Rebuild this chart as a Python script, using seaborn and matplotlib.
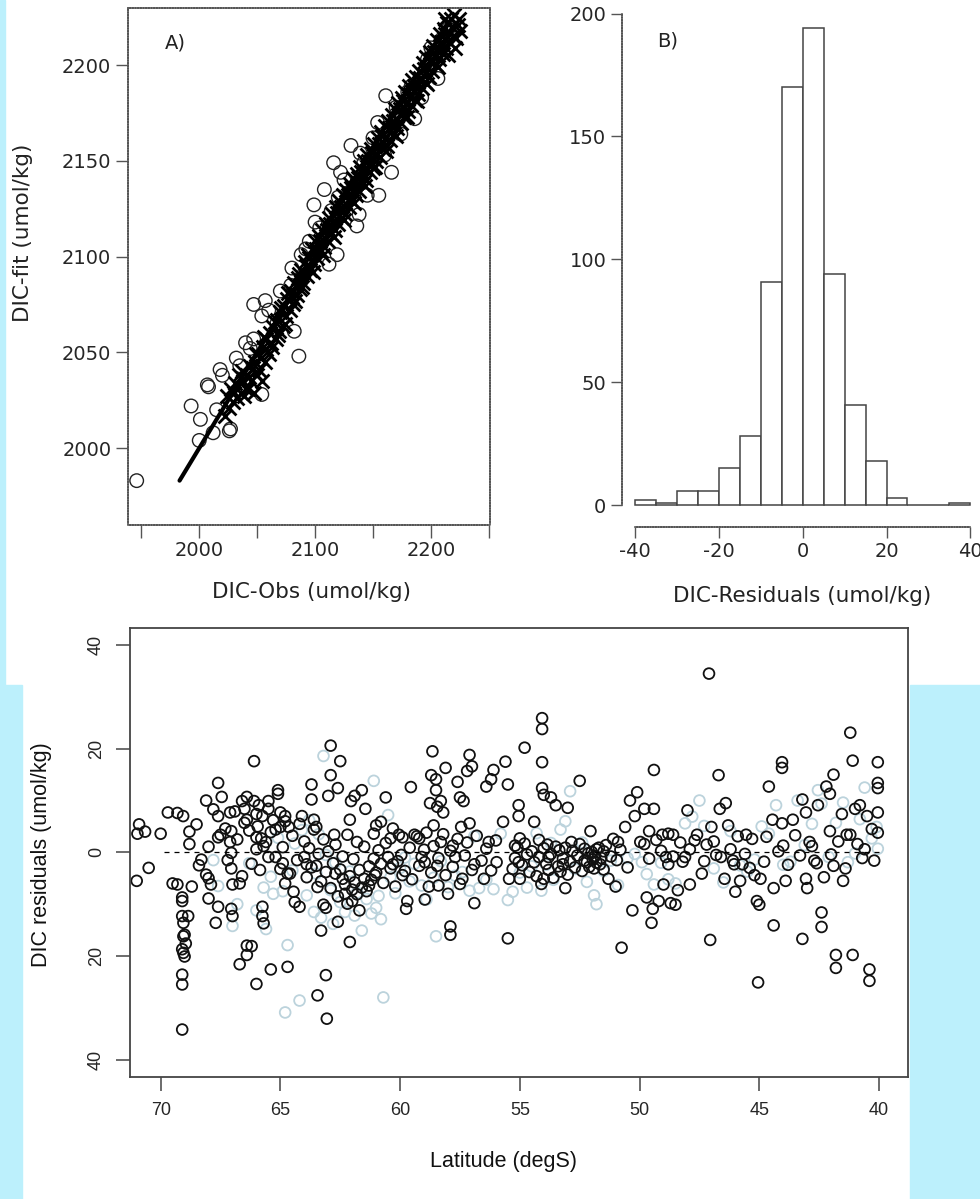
import matplotlib
matplotlib.use("Agg")
import matplotlib.pyplot as plt
import matplotlib.patches as mpatches
import numpy as np
import pandas as pd
import seaborn as sns

# ---- panel A: observed vs fitted DIC (umol/kg) ----
cross_pts = [
    (2022, 2017), (2024, 2027), (2026, 2021), (2027, 2031), (2029, 2024), (2031, 2034),
    (2033, 2026), (2034, 2038), (2036, 2029), (2038, 2035), (2039, 2027), (2041, 2038),
    (2042, 2031), (2044, 2043), (2045, 2035), (2047, 2029), (2048, 2045), (2050, 2038),
    (2051, 2049), (2052, 2041), (2054, 2035), (2055, 2053), (2057, 2045), (2058, 2057),
    (2060, 2049), (2061, 2060), (2063, 2053), (2064, 2063), (2066, 2057), (2067, 2067),
    (2069, 2061), (2070, 2071), (2072, 2064), (2073, 2074), (2075, 2069), (2076, 2078),
    (2078, 2072), (2079, 2082), (2081, 2075), (2082, 2086), (2084, 2080), (2085, 2089),
    (2087, 2083), (2088, 2093), (2090, 2086), (2091, 2097), (2093, 2090), (2094, 2101),
    (2096, 2093), (2097, 2104), (2099, 2096), (2100, 2108), (2102, 2099), (2103, 2111),
    (2105, 2103), (2106, 2114), (2108, 2105), (2109, 2117), (2111, 2108), (2112, 2120),
    (2114, 2112), (2115, 2122), (2117, 2114), (2118, 2126), (2120, 2117), (2121, 2129),
    (2123, 2120), (2124, 2132), (2126, 2122), (2127, 2135), (2129, 2126), (2130, 2138),
    (2132, 2129), (2133, 2141), (2135, 2132), (2136, 2143), (2138, 2134), (2139, 2147),
    (2141, 2138), (2142, 2150), (2144, 2140), (2145, 2153), (2147, 2144), (2148, 2156),
    (2150, 2146), (2151, 2159), (2153, 2150), (2154, 2162), (2156, 2152), (2157, 2165),
    (2159, 2156), (2160, 2168), (2162, 2158), (2163, 2171), (2165, 2161), (2166, 2174),
    (2168, 2164), (2169, 2177), (2171, 2167), (2172, 2180), (2174, 2170), (2175, 2183),
    (2177, 2173), (2178, 2186), (2180, 2176), (2181, 2189), (2183, 2179), (2184, 2192),
    (2186, 2182), (2187, 2194), (2189, 2185), (2190, 2197), (2192, 2188), (2193, 2201),
    (2195, 2191), (2196, 2204), (2198, 2194), (2199, 2207), (2201, 2197), (2202, 2210),
    (2204, 2200), (2205, 2213), (2207, 2203), (2208, 2216), (2210, 2206), (2211, 2219),
    (2213, 2209), (2214, 2222), (2216, 2212), (2217, 2224), (2219, 2215), (2220, 2226),
    (2222, 2214), (2223, 2221), (2225, 2218), (2212, 2224), (2215, 2205), (2221, 2209),
    (2030, 2029), (2037, 2040), (2043, 2037), (2049, 2049), (2053, 2047), (2056, 2058),
    (2062, 2055), (2065, 2066), (2068, 2059), (2071, 2073), (2074, 2065), (2077, 2081),
    (2080, 2079), (2083, 2077), (2086, 2091), (2089, 2084), (2092, 2095), (2095, 2099),
    (2098, 2092), (2101, 2104), (2104, 2108), (2107, 2101), (2110, 2114), (2113, 2117),
    (2116, 2110), (2119, 2123), (2122, 2126), (2125, 2119), (2128, 2132), (2131, 2136),
    (2134, 2128), (2137, 2141), (2140, 2144), (2143, 2137), (2146, 2150), (2149, 2154),
    (2152, 2147), (2155, 2159), (2158, 2163), (2161, 2155), (2164, 2167), (2167, 2171),
    (2170, 2163), (2173, 2177), (2176, 2181), (2179, 2173), (2182, 2185), (2185, 2189),
    (2188, 2181), (2191, 2193), (2194, 2198), (2197, 2190), (2200, 2203), (2203, 2207),
    (2206, 2199), (2209, 2212), (2212, 2216), (2218, 2220), (2224, 2224), (2040, 2031),
    (2046, 2042), (2058, 2052),
]
circle_pts = [
    (1946, 1983), (1993, 2022), (2001, 2015), (2000, 2004), (2007, 2033), (2008, 2032),
    (2012, 2008), (2015, 2020), (2018, 2041), (2020, 2038), (2026, 2009), (2027, 2010),
    (2032, 2047), (2040, 2055), (2047, 2057), (2054, 2028), (2054, 2069), (2086, 2048),
    (2080, 2094), (2088, 2101), (2100, 2118), (2112, 2096), (2119, 2101), (2108, 2135),
    (2116, 2149), (2131, 2158), (2154, 2170), (2161, 2184), (2166, 2144), (2155, 2132),
    (2136, 2116), (2138, 2122), (2139, 2154), (2125, 2140), (2206, 2193), (2197, 2203),
    (2215, 2219), (2082, 2061), (2067, 2065), (2057, 2077), (2047, 2075), (2079, 2085),
    (2095, 2108), (2099, 2127), (2114, 2124), (2131, 2134), (2145, 2132), (2160, 2153),
    (2174, 2164), (2186, 2172), (2192, 2183), (2183, 2189), (2122, 2144), (2060, 2072),
    (2070, 2082), (2092, 2104), (2104, 2115), (2120, 2131), (2142, 2149), (2150, 2162),
    (2170, 2178), (2180, 2186), (2200, 2209), (2210, 2214), (2035, 2043), (2044, 2052),
]
line_obs = [1983, 2222]
line_fit = [1983, 2222]

# ---- panel B: histogram of residuals ----
bin_edges = [-40, -35, -30, -25, -20, -15, -10, -5, 0, 5, 10, 15, 20, 25, 30, 35, 40]
bin_counts = [2, 1, 6, 6, 15, 28, 91, 170, 194, 94, 41, 18, 3, 0, 0, 1]

# ---- panel C: residuals vs latitude ----
dark_pts = [
    (71.0, -5.5), (70.9, 5.4), (70.97, 3.6), (70.65, 4.0), (70.5, -3.0), (70.0, 3.6),
    (69.7, 7.7), (69.5, -6.0), (69.3, 7.6), (69.3, -6.2), (69.06, 7.0), (69.1, -8.7),
    (69.1, -9.4), (69.1, -12.3), (69.05, -13.6), (69.0, -15.9), (69.05, -16.2), (68.95, -17.6),
    (69.1, -18.7), (69.05, -19.4), (69.0, -20.1), (69.1, -23.6), (69.1, -25.5), (69.1, -34.2),
    (68.85, -12.3), (68.8, 4.0), (68.8, 1.6), (68.7, -6.6), (68.5, 5.4), (68.4, -2.5),
    (68.1, 10.0), (68.0, 1.1), (68.1, -4.3), (68.0, -5.0), (68.0, -8.9), (67.8, 8.3),
    (67.6, 7.0), (67.6, 13.4), (67.6, 2.9), (67.5, 3.4), (67.45, 10.7), (67.6, -10.5),
    (67.7, -13.6), (67.1, 7.7), (67.05, 4.1), (67.1, 2.0), (67.05, -0.1), (67.05, -3.1),
    (67.0, -6.2), (67.05, -10.9), (67.0, -12.3), (66.7, -6.0), (66.7, -21.6), (66.6, 9.9),
    (66.5, 8.4), (66.5, 5.7), (66.4, 10.7), (66.4, 6.3), (66.4, -19.8), (66.4, -18.0),
    (66.2, -18.1), (66.1, 17.6), (66.1, 9.9), (66.0, 7.4), (66.0, 2.9), (66.0, 0.6),
    (66.0, -25.4), (65.9, 9.1), (65.8, 2.7), (65.75, -10.5), (65.75, -12.3), (65.7, -13.7),
    (65.75, 7.0), (65.6, 2.0), (65.5, 9.9), (65.5, 8.4), (65.4, -22.6), (65.2, -0.9),
    (65.1, 12.0), (65.1, 11.3), (65.0, 7.7), (65.0, 4.9), (64.9, -2.1), (64.8, 7.0),
    (64.8, -6.0), (64.7, -22.1), (64.65, 4.9), (64.6, -4.1), (64.45, -7.6), (64.4, -9.6),
    (64.2, -10.5), (64.1, 7.0), (64.0, -0.9), (63.9, -2.3), (63.7, 13.1), (63.7, 10.2),
    (63.6, 6.3), (63.5, 4.9), (63.5, -2.6), (63.45, -6.7), (63.45, -27.6), (63.3, -15.1),
    (63.2, -10.1), (63.1, -10.7), (63.1, -23.7), (63.06, -32.1), (63.0, 10.9), (62.9, 14.9),
    (62.9, 20.6), (62.75, 3.4), (62.7, -4.1), (62.6, 12.4), (62.6, -13.4), (62.5, 17.6),
    (62.4, -5.1), (62.3, -8.0), (62.2, 3.4), (62.1, 6.3), (62.1, -17.3), (62.05, 9.9),
    (62.0, -9.4), (61.9, 10.9), (61.8, 2.0), (61.7, -11.2), (61.6, 12.0), (61.5, -5.1),
    (61.45, 8.4), (61.3, -6.4), (61.1, -1.2), (61.05, -4.4), (61.0, 5.2), (60.8, 5.9),
    (60.6, 10.6), (60.5, -0.9), (60.4, 2.7), (60.3, -2.3), (60.2, -6.6), (60.05, 3.4),
    (59.95, -0.5), (59.9, -4.4), (59.75, -10.9), (59.7, -9.4), (59.55, 12.6), (59.4, 3.4),
    (59.2, 2.7), (59.1, -0.9), (58.97, -1.9), (58.97, -9.1), (58.8, -6.6), (58.75, 9.5),
    (58.7, 14.9), (58.65, 19.5), (58.6, 5.2), (58.5, 14.1), (58.5, 12.0), (58.45, 8.8),
    (58.45, -2.6), (58.4, -6.4), (58.3, 2.0), (58.3, 9.9), (58.2, 7.7), (58.1, 16.3),
    (58.0, -8.0), (57.9, -14.3), (57.9, -15.9), (57.8, 1.3), (57.7, -0.9), (57.6, 13.6),
    (57.5, 10.6), (57.45, 4.9), (57.4, -5.1), (57.35, 9.9), (57.2, 15.7), (57.1, 18.8),
    (57.1, 5.6), (57.0, 16.6), (56.9, -9.8), (56.9, -2.3), (56.5, -5.1), (56.4, 12.7),
    (56.3, 2.0), (56.2, 14.1), (56.1, 15.9), (55.97, -1.9), (55.7, 5.9), (55.6, 17.5),
    (55.5, 13.1), (55.5, -16.6), (55.45, -5.1), (55.2, 1.3), (55.05, 9.1), (55.05, 7.0),
    (55.0, 2.7), (55.05, -1.9), (55.0, -5.1), (54.8, 20.2), (54.4, 5.9), (54.2, 2.4),
    (54.07, 25.9), (54.07, 23.8), (54.07, 17.4), (54.07, 12.4), (54.0, 11.1), (54.0, -5.1),
    (53.8, -0.9), (53.7, 10.6), (53.5, 9.1), (53.2, -2.3), (53.1, -6.9), (53.0, 8.6),
    (52.85, 2.0), (52.5, 13.8), (52.3, -1.6), (52.05, 4.1), (51.9, -0.9), (51.8, 0.6),
    (51.65, -2.3), (51.5, 0.2), (51.3, -5.1), (51.0, -6.6), (50.9, 2.0), (50.75, -18.4),
    (50.6, 4.9), (50.5, -2.9), (50.4, 10.0), (50.2, 7.0), (50.1, 11.6), (50.3, -11.2),
    (49.97, 2.0), (49.8, 8.4), (49.7, -8.7), (49.6, 4.1), (49.5, -13.6), (49.45, -10.9),
    (49.4, 15.9), (49.4, 8.4), (49.2, -9.4), (49.05, 3.4), (49.0, -6.2), (48.9, -0.9),
    (48.8, -2.3), (48.7, -9.8), (48.6, 3.4), (48.5, -10.1), (48.4, -7.3), (48.1, -0.9),
    (48.0, 8.1), (47.9, -6.2), (47.6, 3.4), (47.4, -4.1), (47.1, 34.5), (47.05, -16.9),
    (47.0, 4.9), (46.8, -0.5), (46.7, 14.9), (46.65, 8.4), (46.45, -5.1), (46.4, 9.5),
    (46.3, 5.2), (46.2, 0.6), (46.05, -2.3), (46.0, -7.6), (45.8, -5.5), (45.7, -2.3),
    (45.55, 3.4), (45.4, -3.0), (45.2, -4.4), (45.1, -9.4), (45.05, -25.1), (45.0, -10.1),
    (44.95, -5.1), (44.6, 12.7), (44.45, 6.3), (44.4, -6.9), (44.4, -14.1), (44.05, 17.4),
    (44.05, 16.3), (44.05, 5.6), (44.0, 1.3), (43.9, -5.5), (43.6, 6.3), (43.2, -16.7),
    (43.2, 10.2), (43.05, 7.7), (43.05, -5.1), (43.0, -6.9), (42.9, 2.0), (42.7, -1.6),
    (42.55, 9.1), (42.4, -11.6), (42.4, -14.4), (42.3, -4.8), (42.2, 12.7), (42.05, 4.1),
    (42.05, 11.3), (41.9, 15.0), (41.9, -2.6), (41.8, -19.8), (41.8, -22.3), (41.55, 7.4),
    (41.5, -5.5), (41.35, 3.4), (41.2, 23.1), (41.1, 17.7), (41.2, 3.4), (41.1, -19.8),
    (41.0, 8.4), (40.8, 9.1), (40.6, 0.6), (40.5, 7.0), (40.4, -22.6), (40.4, -24.8),
    (40.2, -1.6), (40.05, 17.4), (40.05, 13.4), (40.05, 12.4), (40.05, 3.8), (40.05, 7.7),
    # dense band
    (64.5, 3.2), (64.3, -1.5), (64.2, 5.5), (64.0, 2.1), (63.9, -4.8), (63.8, 0.8),
    (63.7, -2.9), (63.6, 4.4), (63.4, -0.3), (63.3, -5.6), (63.2, 2.5), (63.1, -3.8),
    (63.0, 0.2), (62.9, -6.9), (62.8, -2.1), (62.7, 1.5), (62.6, -8.5), (62.5, -3.3),
    (62.4, -0.8), (62.3, -6.2), (62.2, -9.9), (62.1, -4.6), (62.0, -7.2), (61.95, -1.3),
    (61.9, -5.8), (61.8, -8.1), (61.7, -3.4), (61.6, -6.8), (61.5, 1.1), (61.4, -7.5),
    (61.3, -2.7), (61.2, -5.3), (61.1, 3.6), (61.0, -3.9), (60.9, 0.4), (60.8, -2.2),
    (60.7, -5.9), (60.6, 1.8), (60.4, -3.1), (60.3, 4.6), (60.1, -1.7), (59.9, 2.9),
    (59.8, -3.6), (59.6, 0.9), (59.5, -5.2), (59.3, 3.1), (59.2, -2.6), (59.0, 0.5),
    (58.9, 3.8), (58.7, -3.9), (58.6, 1.2), (58.4, -1.1), (58.2, 3.5), (58.1, -4.4),
    (57.9, 0.3), (57.8, -2.8), (57.6, 2.6), (57.5, -6.1), (57.3, -0.6), (57.2, 1.9),
    (57.0, -3.4), (56.8, 3.2), (56.6, -1.6), (56.4, 0.7), (56.2, -3.5), (56.0, 2.3),
    (55.3, -3.2), (55.2, -1.1), (55.1, 0.9), (54.9, -2.5), (54.8, 1.7), (54.7, -0.4),
    (54.6, -3.8), (54.5, 0.2), (54.4, -1.9), (54.3, -4.6), (54.2, -0.9), (54.1, -6.1),
    (54.0, 0.8), (53.9, -2.2), (53.85, 1.5), (53.8, -3.4), (53.7, -0.3), (53.6, -4.9),
    (53.5, 1.1), (53.4, -2.7), (53.35, 0.4), (53.3, -3.7), (53.2, -1.2), (53.1, 0.9),
    (53.0, -4.3), (52.9, -1.8), (52.8, 0.3), (52.7, -2.9), (52.6, -0.6), (52.5, 1.6),
    (52.4, -3.6), (52.3, 0.7), (52.2, -1.9), (52.15, -0.2), (52.1, -2.8), (52.0, 0.1),
    (51.95, -1.4), (51.9, -3.1), (51.85, -0.7), (51.8, -2.0), (51.7, 0.9), (51.6, -1.1),
    (51.5, -3.3), (51.4, 1.4), (51.2, -0.8), (51.1, 2.6), (50.95, -1.5), (50.8, 0.5),
    (49.8, 1.6), (49.6, -1.2), (49.3, 2.4), (49.1, 0.3), (48.8, 3.6), (48.6, -0.8),
    (48.3, 1.9), (48.2, -1.8), (47.9, 0.6), (47.7, 2.3), (47.3, -1.7), (47.2, 1.5),
    (46.9, 2.1), (46.6, -0.9), (46.1, -1.6), (45.9, 3.1), (45.6, -0.3), (45.3, 2.6),
    (44.8, -1.8), (44.7, 3.0), (44.2, 0.2), (43.8, -2.4), (43.5, 3.3), (43.3, -0.6),
    (42.8, 1.2), (42.6, -2.1), (42.0, -0.4), (41.7, 2.1), (41.4, -3.1), (40.9, 1.6),
    (40.7, -1.1), (40.3, 4.5),
    (68.3, -1.4), (67.9, -6.2), (67.3, 4.6), (67.2, -1.5), (66.9, 7.9), (66.8, 2.5),
    (66.6, -4.6), (66.3, 4.2), (66.2, -2.2), (65.95, 5.0), (65.85, -3.4), (65.7, 1.2),
    (65.5, -0.9), (65.4, 3.9), (65.3, 6.2), (65.2, 4.4), (65.0, -3.2), (64.9, 1.0),
    (64.8, 6.0), (64.7, -4.1),
]
light_pts = [
    (67.8, -1.5), (67.6, -6.5), (67.0, -14.2), (66.8, -10.0), (66.3, -2.1), (66.0, -11.2),
    (65.7, -6.8), (65.6, -14.8), (65.4, -4.7), (65.3, -8.0), (65.1, 2.8), (64.9, -7.5),
    (64.7, -17.9), (64.8, -30.9), (64.5, -3.5), (64.4, 1.7), (64.2, -28.6), (64.1, 4.3),
    (63.9, -8.3), (63.8, 6.2), (63.6, -11.5), (63.5, -4.1), (63.4, 3.5), (63.3, -12.6),
    (63.2, 18.6), (63.1, -0.5), (62.9, -7.3), (62.8, -13.8), (62.7, -2.0), (62.5, -9.6),
    (62.3, -11.5), (62.1, -3.7), (61.9, -12.2), (61.8, -7.8), (61.6, -15.1), (61.4, -9.0),
    (61.2, -11.8), (61.1, 13.8), (61.0, -10.7), (60.9, -8.4), (60.8, -12.9), (60.7, -28.0),
    (60.5, 7.2), (60.4, -4.8), (60.2, -7.9), (60.0, -3.0), (59.8, -1.0), (59.6, -5.6),
    (59.4, -2.2), (59.1, -6.4), (58.9, -9.1), (58.6, -4.9), (58.5, -16.2), (58.3, -1.7),
    (58.0, -6.7), (57.7, -4.5), (57.4, -3.8), (57.1, -7.4), (56.9, 3.1), (56.7, -6.9),
    (56.4, -5.3), (56.1, -7.1), (55.8, 3.6), (55.5, -9.2), (55.3, -7.6), (55.0, -3.9),
    (54.7, -6.8), (54.5, -2.7), (54.3, 3.7), (54.1, -7.4), (53.9, -2.4), (53.7, 1.8),
    (53.6, -5.3), (53.3, 4.4), (53.1, 6.0), (52.9, 11.8), (52.7, -3.2), (52.4, 1.9),
    (52.2, -5.7), (51.9, -8.3), (51.8, -10.0), (51.5, -3.6), (51.2, -1.6), (50.9, -6.3),
    (50.5, -1.1), (50.2, -0.3), (49.9, -1.9), (49.7, -4.2), (49.4, -6.2), (49.1, -2.0),
    (48.8, -5.2), (48.5, -6.0), (48.1, 5.6), (47.8, 6.9), (47.5, 10.0), (47.3, 5.1),
    (46.9, -3.1), (46.5, -5.8), (46.2, 4.1), (45.8, -2.5), (45.5, -3.7), (45.2, -1.4),
    (44.9, 5.0), (44.6, 3.6), (44.3, 9.1), (44.0, -2.4), (43.7, -1.8), (43.4, 10.0),
    (43.1, 1.4), (42.8, 5.5), (42.55, 12.0), (42.4, 9.4), (42.1, -0.9), (41.8, 5.7),
    (41.5, 9.6), (41.3, -1.9), (41.0, -0.2), (40.8, 6.4), (40.6, 12.5), (40.3, 2.7),
    (40.1, 4.9), (40.05, 0.7),
]
zero_lat = [70, 40]
zero_res = [0, 0]

W, H = 980, 1199
def fx(px):
    return px / W
def fy(py):
    return 1 - py / H

sns.set_style("ticks")
plt.rcParams["font.family"] = ["DejaVu Sans"]
plt.rcParams["axes.unicode_minus"] = False

fig = plt.figure(figsize=(9.8, 11.99), dpi=100)
fig.patch.set_facecolor("white")
BLUE = "#bcf0fc"
for (x0, y0, x1, y1) in [(0, 0, 5, 685), (0, 685, 22, 1199), (910, 685, 980, 1199)]:
    fig.patches.append(mpatches.Rectangle((fx(x0), fy(y1)), fx(x1 - x0), (y1 - y0) / H,
                                          transform=fig.transFigure, color=BLUE, zorder=0))

GRAY = "#555555"

# ---------------- panel A ----------------
axA = fig.add_axes([fx(128), fy(524.5), fx(490 - 128), (524.5 - 8) / H])
dfc = pd.DataFrame(circle_pts, columns=["obs", "fit"])
dfx = pd.DataFrame(cross_pts, columns=["obs", "fit"])
sns.scatterplot(data=dfc, x="obs", y="fit", marker="o", s=95, facecolor="none",
                edgecolor="#222222", linewidth=1.0, ax=axA)
sns.scatterplot(data=dfx, x="obs", y="fit", marker="x", s=100, color="black",
                linewidth=2.0, ax=axA)
sns.lineplot(x=line_obs, y=line_fit, color="black", linewidth=3, ax=axA)
axA.set_xlim(1938.5, 2251)
axA.set_ylim(1960.1, 2229.8)
axA.set_xticks([1950, 2000, 2050, 2100, 2150, 2200, 2250])
axA.set_xticklabels(["", "2000", "", "2100", "", "2200", ""])
axA.set_yticks([2000, 2050, 2100, 2150, 2200])
axA.set_yticklabels(["2000", "2050", "2100", "2150", "2200"])
for sp in axA.spines.values():
    sp.set_color(GRAY)
    sp.set_linewidth(1.2)
    sp.set_linestyle((0, (1, 0.6)))
axA.tick_params(axis="both", direction="out", length=9, width=1, color=GRAY,
                labelsize=14, pad=3)
axA.set_xlabel("")
axA.set_ylabel("")
fig.text(fx(312), fy(592), "DIC-Obs (umol/kg)", ha="center", va="center", fontsize=15.5,
         color="#222222")
fig.text(fx(23), fy(233), "DIC-fit (umol/kg)", ha="center", va="center", rotation=90,
         fontsize=15.5, color="#222222")
fig.text(fx(175), fy(43), "A)", ha="center", va="center", fontsize=14, color="#222222")

# ---------------- panel B ----------------
axB = fig.add_axes([fx(621.7), fy(526.5), fx(985 - 621.7), (526.5 - 9.2) / H])
mids = [(a + b) / 2 for a, b in zip(bin_edges[:-1], bin_edges[1:])]
sns.histplot(x=mids, weights=bin_counts, bins=bin_edges, color="white", alpha=1,
             edgecolor="#444444", linewidth=1.1, ax=axB)
axB.set_xlim(-43.2, 43.5)
axB.set_ylim(-8.6, 201.76)
axB.set_xticks([-40, -20, 0, 20, 40])
axB.set_yticks([0, 50, 100, 150, 200])
axB.spines["top"].set_visible(False)
axB.spines["right"].set_visible(False)
axB.spines["left"].set_bounds(0, 200)
axB.spines["bottom"].set_bounds(-40, 40)
for side in ["left", "bottom"]:
    axB.spines[side].set_color(GRAY)
    axB.spines[side].set_linewidth(1.2)
    axB.spines[side].set_linestyle((0, (1, 0.6)))
axB.tick_params(axis="both", direction="out", length=8, width=1, color=GRAY,
                labelsize=14, pad=3)
axB.set_xlabel("")
axB.set_ylabel("")
fig.text(fx(802), fy(596), "DIC-Residuals (umol/kg)", ha="center", va="center",
         fontsize=15.5, color="#222222")
fig.text(fx(668), fy(41), "B)", ha="center", va="center", fontsize=14, color="#222222")

# ---------------- panel C ----------------
axC = fig.add_axes([fx(130), fy(1076.7), fx(907.5 - 130), (1076.7 - 628) / H])
dfl = pd.DataFrame(light_pts, columns=["lat", "res"])
dfd = pd.DataFrame(dark_pts, columns=["lat", "res"])
sns.scatterplot(data=dfl, x="lat", y="res", marker="o", s=60, facecolor="none",
                edgecolor="#bcd3dc", linewidth=1.3, ax=axC)
sns.scatterplot(data=dfd, x="lat", y="res", marker="o", s=60, facecolor="none",
                edgecolor="#111111", linewidth=1.3, ax=axC)
sns.lineplot(x=zero_lat, y=zero_res, color="black", linewidth=0.9,
             linestyle=(0, (4, 4)), ax=axC)
axC.set_xlim(71.28, 38.81)
axC.set_ylim(-43.3, 43.3)
axC.set_xticks([70, 65, 60, 55, 50, 45, 40])
axC.set_xticklabels(["70", "65", "60", "55", "50", "45", "40"])
axC.set_yticks([-40, -20, 0, 20, 40])
axC.set_yticklabels(["40", "20", "0", "20", "40"], rotation=90, va="center")
for sp in axC.spines.values():
    sp.set_color("#444444")
    sp.set_linewidth(1.3)
axC.tick_params(axis="both", direction="out", length=10, width=1.1, color="#444444",
                labelsize=13, pad=8)
for lab in axC.get_xticklabels() + axC.get_yticklabels():
    lab.set_fontfamily("Liberation Sans")
axC.set_xlabel("")
axC.set_ylabel("")
fig.text(fx(503), fy(1161), "Latitude (degS)", ha="center", va="center", fontsize=15.5,
         family="Liberation Sans", color="#111111")
fig.text(fx(41), fy(855), "DIC residuals (umol/kg)", ha="center", va="center",
         rotation=90, fontsize=15.5, family="Liberation Sans", color="#111111")

fig.savefig("out.png", dpi=100, facecolor=fig.get_facecolor())
